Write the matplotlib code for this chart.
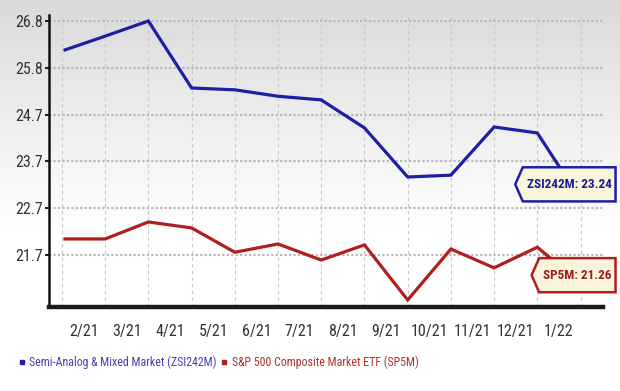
import numpy as np
import matplotlib
matplotlib.use("Agg")
import matplotlib.pyplot as plt
from matplotlib.path import Path
from matplotlib.lines import Line2D
from matplotlib.transforms import blended_transform_factory
from matplotlib import font_manager
import datetime as dt
import calendar

# ---------------- data ----------------
month_labels = ["2/21", "3/21", "4/21", "5/21", "6/21", "7/21", "8/21",
                "9/21", "10/21", "11/21", "12/21", "1/22"]
dates = ["2021-02-03", "2021-03-01", "2021-04-01", "2021-05-01", "2021-06-01",
         "2021-07-01", "2021-08-01", "2021-09-01", "2021-10-01", "2021-11-01",
         "2021-12-01", "2022-01-01", "2022-01-25"]
zsi_values = [26.17, 26.47, 26.80, 25.34, 25.30, 25.16, 25.08, 24.47, 23.40,
              23.44, 24.49, 24.36, 23.24]
sp5_values = [22.05, 22.05, 22.42, 22.29, 21.76, 21.94, 21.59, 21.92, 20.72,
              21.83, 21.42, 21.87, 21.26]
ytick_labels = ["21.7", "22.7", "23.7", "24.7", "25.8", "26.8"]
zsi_name = "Semi-Analog & Mixed Market (ZSI242M)"
sp5_name = "S&P 500 Composite Market ETF (SP5M)"
zsi_tag = "ZSI242M: 23.24"
sp5_tag = "SP5M: 21.26"

# month position: 0 = start of Feb 2021
def month_pos(s):
    d = dt.date.fromisoformat(s)
    idx = (d.year - 2021) * 12 + (d.month - 2)
    ndays = calendar.monthrange(d.year, d.month)[1]
    return idx + (d.day - 1) / ndays

x = np.array([month_pos(s) for s in dates])

installed = {f.name for f in font_manager.fontManager.ttflist}
cands = ["DejaVu Sans Condensed", "Liberation Sans Narrow", "Roboto Condensed",
         "Liberation Sans", "DejaVu Sans"]
FONT = [c for c in cands if c in installed] or ["DejaVu Sans"]
plt.rcParams["font.family"] = FONT
plt.rcParams["font.stretch"] = "condensed"

BLUE = "#1e1ea6"
RED = "#b01e1e"

fig = plt.figure(figsize=(6.2, 3.91), dpi=100)

# background gradient
bg = fig.add_axes([0, 0, 1, 1], zorder=-10)
h = 391
yy = np.arange(h)
g = 217 + (255 - 217) * np.clip(yy / 230.0, 0, 1) ** 0.9
img = np.repeat(g[:, None], 620, axis=1) / 255.0
rgb = np.dstack([img, img, img])
bg.imshow(rgb, aspect="auto", extent=[0, 1, 0, 1], origin="upper")
bg.axis("off")

ax = fig.add_axes([49 / 620, 84 / 391, 554 / 620, 292 / 391])
ax.patch.set_alpha(0)

ax.plot(x, zsi_values, color=BLUE, lw=2.3, solid_joinstyle="miter", zorder=3)
ax.plot(x, sp5_values, color=RED, lw=2.3, solid_joinstyle="miter", zorder=3)

ax.set_xlim(-0.30, 12.52)
ytick_pos = np.linspace(21.7, 26.8, 6)
step = ytick_pos[1] - ytick_pos[0]
px = step / 46.8
ax.set_ylim(26.8 - 292 * px + 6 * px, 26.8 + 6 * px)

ax.set_yticks(ytick_pos)
ax.set_yticklabels(ytick_labels)
ax.set_xticks(np.arange(0, 13))
ax.set_xticklabels([])
ax.set_xticks(np.arange(12) + 0.5, minor=True)
ax.set_xticklabels(month_labels, minor=True)

ax.tick_params(axis="y", length=3, width=1.5, color="#222222", labelsize=11.5,
               labelcolor="#333333", pad=1)
ax.tick_params(axis="x", which="major", length=0)
ax.tick_params(axis="x", which="minor", length=0, labelsize=11.5,
               labelcolor="#333333", pad=12)

for s in ["top", "right"]:
    ax.spines[s].set_visible(False)
ax.spines["left"].set_linewidth(1.8)
ax.spines["left"].set_color("#111111")
ax.spines["bottom"].set_linewidth(3.2)
ax.spines["bottom"].set_color("#1a1a1a")

ax.grid(axis="y", which="major", color="#b8b8b8", lw=1.6, ls=(0, (1, 1)))
ax.grid(axis="x", which="major", color="#c8c8c8", lw=0.8, ls=(0, (3, 3)))
ax.set_axisbelow(True)

# tag box style: rectangle with a pointed left side
def tag_box(x0, y0, width, height, mutation_size):
    pad_x = 0.3 * mutation_size
    pad_y = 0.8 * mutation_size
    x0 -= pad_x
    y0 -= pad_y
    w = width + 2 * pad_x
    hh = height + 2 * pad_y
    tip = 0.22 * hh
    verts = [(x0, y0), (x0 + w, y0), (x0 + w, y0 + hh), (x0, y0 + hh),
             (x0 - tip, y0 + hh / 2), (x0, y0)]
    return Path(verts, closed=True)

tr = blended_transform_factory(ax.transAxes, ax.transData)
ax.text(1.0155, zsi_values[-1], zsi_tag, transform=tr, ha="right", va="center",
        fontsize=9.5, color="#1c1c8c", fontweight="bold", clip_on=False, zorder=5,
        bbox=dict(boxstyle=tag_box, fc="#f8f5dc", ec=BLUE, lw=1.8))
ax.text(1.0155, sp5_values[-1], sp5_tag, transform=tr, ha="right", va="center",
        fontsize=9.5, color="#9c1c1c", fontweight="bold", clip_on=False, zorder=5,
        bbox=dict(boxstyle=tag_box, fc="#f8f5dc", ec=RED, lw=1.8))

handles = [Line2D([], [], color=BLUE, marker="s", ls="none", markersize=3.5),
           Line2D([], [], color=RED, marker="s", ls="none", markersize=3.5)]
leg = fig.legend(handles, [zsi_name, sp5_name], ncol=2, loc="center left",
                 bbox_to_anchor=(0.03, 0.074), frameon=False, fontsize=8.6,
                 handlelength=0.5, handletextpad=0.4, columnspacing=0.35,
                 borderaxespad=0, borderpad=0)
leg.get_texts()[0].set_color("#4b3cb0")
leg.get_texts()[1].set_color("#b03030")

fig.savefig("out.png", dpi=100)
